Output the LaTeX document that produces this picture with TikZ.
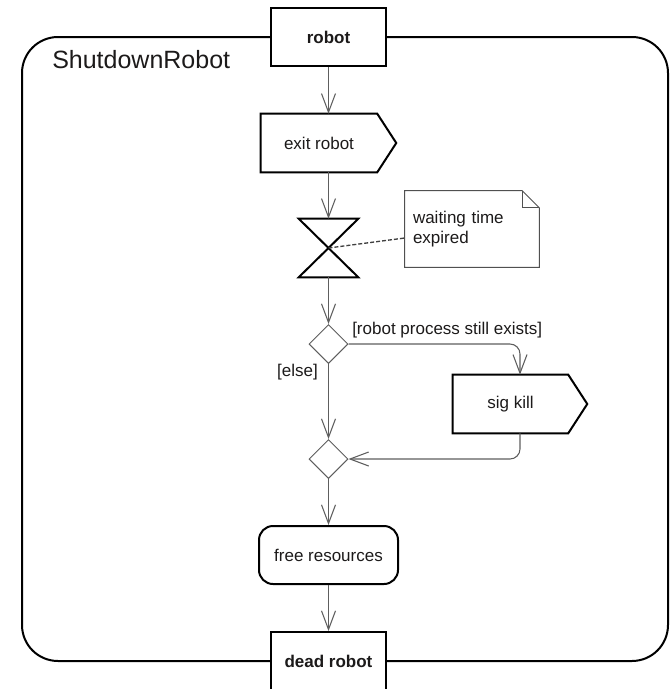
\documentclass[tikz,border=0pt]{standalone}
\usepackage{fontspec}
\setmainfont{Liberation Sans}
\usetikzlibrary{arrows.meta,shapes.geometric,calc}

\definecolor{flow}{HTML}{5E5E5E}
\definecolor{txt}{HTML}{1C1A1A}
\definecolor{notegray}{HTML}{505050}

\tikzset{
  lbl/.style={font=\fontsize{12.75pt}{15pt}\selectfont, text=txt},
  pinbox/.style={draw=black, line width=1.5pt, fill=white, inner sep=0pt,
    minimum width=86.25pt, minimum height=43.5pt,
    font=\fontsize{12.75pt}{15pt}\selectfont\bfseries, text=txt},
  actbox/.style={lbl, inner sep=0pt, minimum width=87pt, minimum height=43.5pt},
  border/.style={draw=black, line width=1.5pt, line join=miter},
  choice/.style={diamond, aspect=1, draw=flow, line width=0.75pt, fill=white,
    inner sep=0pt, minimum width=29.25pt, minimum height=29.25pt},
  flowline/.style={draw=flow, line width=0.8pt,
    -{Straight Barb[length=14pt,width=10.5pt]}},
  notebox/.style={lbl, inner xsep=6pt, inner ysep=0pt, text width=88.5pt,
    align=left, minimum height=57pt},
  noteline/.style={draw=notegray, line width=0.75pt},
  anchorline/.style={draw=black!75, line width=1pt, dash pattern=on 3pt off 1.5pt},
}

\begin{document}
\begin{tikzpicture}[x=0.75pt, y=-0.75pt]
  \useasboundingbox (0,0) rectangle (669,689);

  % activity frame
  \draw[border, rounded corners=27pt] (22,37) rectangle (668,661);
  \node[lbl, font=\fontsize{18.75pt}{22pt}\selectfont, anchor=base west, inner sep=0pt]
    (title) at (52,68) {ShutdownRobot};

  % parameter pins
  \node[pinbox] (robot) at (328.5,37) {robot};
  \node[pinbox] (dead) at (328.5,661) {dead robot};

  % send signal action: exit robot
  \node[actbox] (exitr) at (319,143) {exit robot};
  \draw[border] (exitr.north west) -- (exitr.north east)
    -- ($(exitr.east)+(19,0)$) -- (exitr.south east) -- (exitr.south west) -- cycle;

  % time event
  \node[inner sep=0pt, minimum width=44.25pt, minimum height=43.5pt] (timer) at (328.5,248) {};
  \draw[border] (timer.north west) -- (timer.north east)
    -- (timer.south west) -- (timer.south east) -- cycle;

  % comment
  \node[notebox] (note) at (472,229) {waiting time\\expired};
  \draw[noteline] (note.north west) -- ($(note.north east)+(-17,0)$)
    -- ($(note.north east)+(0,17)$) -- (note.south east) -- (note.south west) -- cycle;
  \draw[noteline] ($(note.north east)+(-17,0)$) |- ($(note.north east)+(0,17)$);
  \draw[anchorline] (timer.center) -- ($(note.west)+(0,9)$);

  % decision and merge
  \node[choice] (dec) at (328.5,344) {};
  \node[choice] (merge) at (328.5,459) {};

  % send signal action: sig kill
  \node[actbox, minimum width=86.25pt] (sig) at (510.5,404) {sig kill};
  \draw[border] (sig.north west) -- (sig.north east)
    -- ($(sig.east)+(19,0)$) -- (sig.south east) -- (sig.south west) -- cycle;

  % action
  \node[lbl, draw=black, line width=1.5pt, rounded corners=10.5pt, inner sep=0pt,
    minimum width=104.25pt, minimum height=43.5pt] (free) at (328.5,555) {free resources};

  % control flows
  \draw[flowline] (robot.south) -- (robot.south |- exitr.north);
  \draw[flowline] (timer.north |- exitr.south) -- (timer.north);
  \draw[flowline] (timer.south) -- (dec.north);
  \draw[flowline, rounded corners=7.5pt] (dec.east) -| ($(sig.north)+(9.5,0)$);
  \draw[flowline] (dec.south) -- (merge.north);
  \draw[flowline, rounded corners=7.5pt] ($(sig.south)+(9.5,0)$) |- (merge.east);
  \draw[flowline] (merge.south) -- (free.north);
  \draw[flowline] (free.south) -- (dead.north);

  % guards
  \node[lbl, anchor=base west, inner sep=0pt] (gyes) at (352,334) {[robot process still exists]};
  \node[lbl, anchor=base east, inner sep=0pt] (gelse) at (318,376) {[else]};
\end{tikzpicture}
\end{document}
